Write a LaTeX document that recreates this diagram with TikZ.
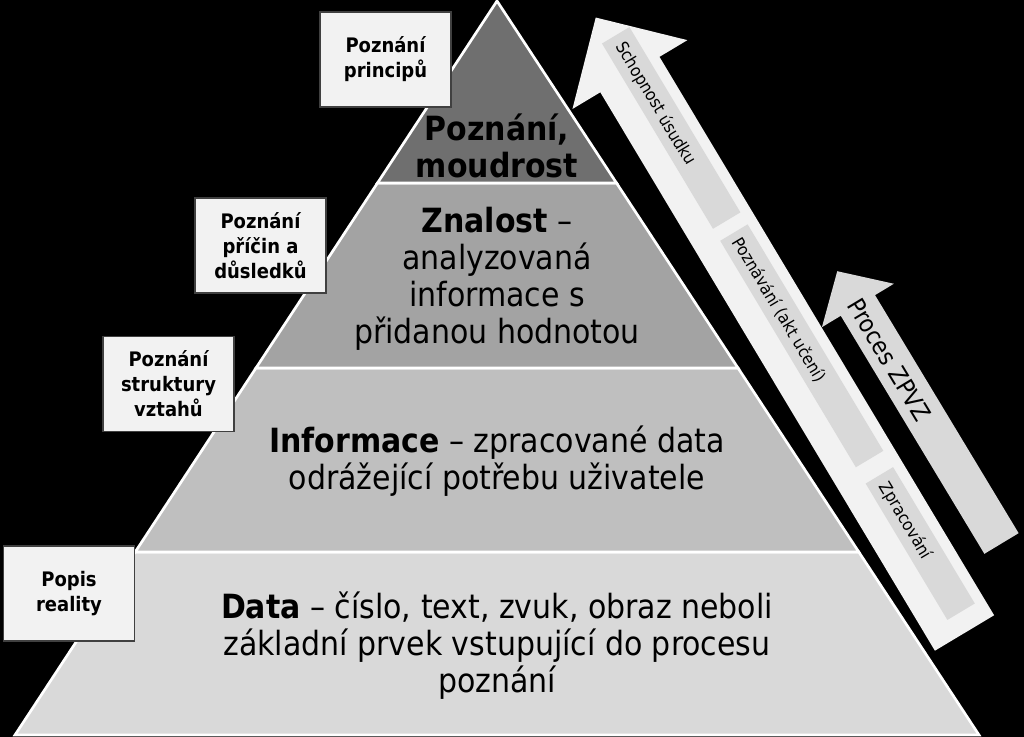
\documentclass[tikz,border=0pt]{standalone}
\usepackage{fontspec}
\setmainfont{DejaVu Sans Condensed}
\definecolor{pozadi}{HTML}{000000}
\definecolor{vrchol}{HTML}{6F6F6F}
\definecolor{znalostfill}{HTML}{A3A3A3}
\definecolor{infofill}{HTML}{BFBFBF}
\definecolor{datafill}{HTML}{D9D9D9}
\definecolor{svetla}{HTML}{F2F2F2}
\definecolor{pruhfill}{HTML}{D9D9D9}

\begin{document}
\begin{tikzpicture}[x=0.75pt,y=0.75pt,
  vrstva/.style={draw=white,line width=2pt,line join=miter},
  vrstvatext/.style={align=center,text=black,font=\fontsize{25}{27.75}\selectfont},
  popis/.style={rectangle,fill=svetla,draw=black!75,line width=1pt,align=center,
    minimum width=98.25pt,minimum height=71.25pt,inner sep=0pt,
    font=\bfseries\fontsize{15}{18.75}\selectfont},
  pruhtext/.style={anchor=west,rotate=-59.07,inner sep=0pt,font=\fontsize{12.75}{14}\selectfont}]

\def\angbig{120.93}
\def\angsmall{121.1}

\fill[pozadi] (0,0) rectangle (1024,737);
\useasboundingbox (0,0) rectangle (1024,737);

% pyramida
\coordinate (apex) at (497,736);
\coordinate (l1) at (377.5,554);
\coordinate (p1) at (616.5,554);
\coordinate (l2) at (256,369);
\coordinate (p2) at (738,369);
\coordinate (l3) at (135.2,185);
\coordinate (p3) at (858.8,185);
\coordinate (l4) at (15,2);
\coordinate (p4) at (979,2);

\filldraw[vrstva,fill=datafill] (l3) -- (p3) -- (p4) -- (l4) -- cycle;
\filldraw[vrstva,fill=infofill] (l2) -- (p2) -- (p3) -- (l3) -- cycle;
\filldraw[vrstva,fill=znalostfill] (l1) -- (p1) -- (p2) -- (l2) -- cycle;
\filldraw[vrstva,fill=vrchol] (apex) -- (p1) -- (l1) -- cycle;

\node[vrstvatext] (moudrost) at (497,591) {\textbf{Poznání,}\\\textbf{moudrost}};
\node[vrstvatext] (znalost) at (497,458) {\textbf{Znalost} --\\analyzovaná\\informace s\\přidanou hodnotou};
\node[vrstvatext] (informace) at (497,276) {\textbf{Informace} -- zpracované data\\odrážející potřebu uživatele};
\node[vrstvatext] (data) at (497,91) {\textbf{Data} -- číslo, text, zvuk, obraz neboli\\základní prvek vstupující do procesu\\poznání};

% popisky vlevo
\node[popis] (principy) at (385.5,677.5) {Poznání\\principů};
\node[popis] (priciny) at (260.5,491.5) {Poznání\\příčin a\\důsledků};
\node[popis] (struktura) at (168.5,353) {Poznání\\struktury\\vztahů};
\node[popis] (realita) at (69,143.5) {Popis\\reality};

% velka sipka
\begin{scope}[shift={(964.5,104)},rotate=\angbig]
\fill[svetla] (0,-34.5) -- (651,-34.5) -- (651,-67) -- (717.5,0) -- (651,67) -- (651,34.5) -- (0,34.5) -- cycle;
\fill[pruhfill] (476,-24) rectangle (692,8);
\fill[pruhfill] (198,-24) rectangle (462,8);
\fill[pruhfill] (20,-24) rectangle (179,8);
\node[pruhtext] (usudek) at (683,-7) {Schopnost úsudku};
\node[pruhtext] (uceni) at (455,-7) {Poznávání (akt učení)};
\node[pruhtext] (zpracovani) at (170,-7) {Zpracování};
\end{scope}

% mala sipka
\begin{scope}[shift={(1001.5,193.5)},rotate=\angsmall]
\fill[pruhfill] (0,-20) -- (278,-20) -- (278,-42) -- (318,0) -- (278,42) -- (278,20) -- (0,20) -- cycle;
\node[rotate=-58.9,inner sep=0pt,font=\fontsize{18.3}{20}\selectfont] (zpvz) at (215,1) {Proces ZPVZ};
\end{scope}
\end{tikzpicture}
\end{document}
